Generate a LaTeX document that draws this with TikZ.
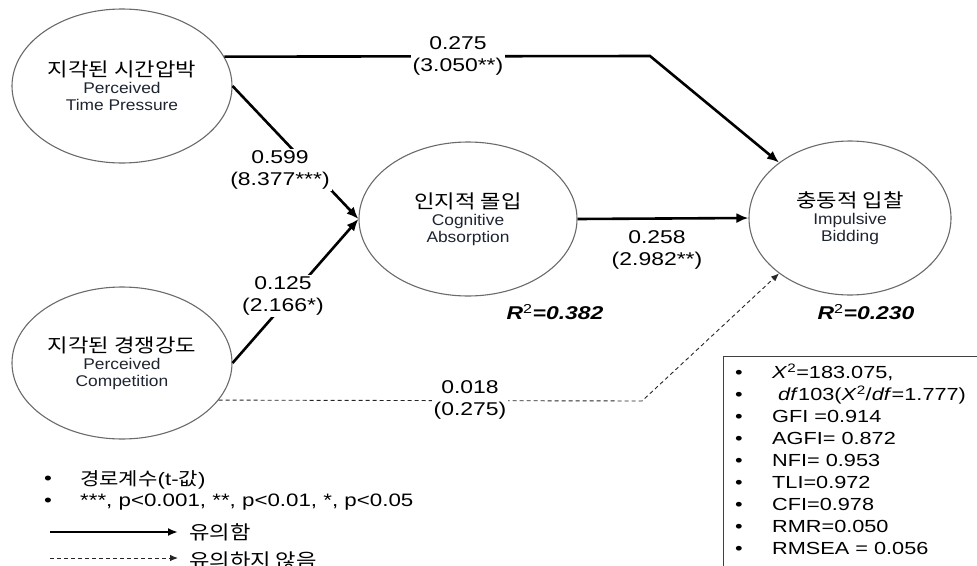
\documentclass[tikz,border=0pt]{standalone}
\usepackage{fontspec}
\setmainfont{Liberation Sans}[FakeStretch=1.24]
\newfontfamily\kfont{Noto Sans CJK KR}[FakeStretch=1.17]
\newfontfamily\efont{Liberation Sans}[FakeStretch=1.12]
\usetikzlibrary{shapes.geometric,arrows.meta}
\definecolor{ellgray}{HTML}{6A6A6A}
\definecolor{boxgray}{HTML}{404040}
\definecolor{engcol}{HTML}{1E2430}
\tikzset{
  latent/.style={ellipse, draw=ellgray, line width=1.1pt, inner sep=0pt, align=center,
    text=engcol, font=\efont\fontsize{15.5}{17}\selectfont},
  sig/.style={line width=2.6pt, -{Latex[length=12pt,width=10pt]}},
  nsig/.style={line width=0.9pt, draw=black!85, dash pattern=on 4pt off 3pt, -{Latex[length=8pt,width=6.5pt]}},
  coef/.style={fill=white, align=center, inner sep=2pt, font=\fontsize{18.5}{22}\selectfont},
  rsq/.style={inner sep=0pt, font=\fontsize{18.5}{22}\selectfont},
  legtext/.style={anchor=west, inner sep=0pt, font=\fontsize{18}{22}\selectfont},
  bulletmark/.style={inner sep=0pt, font=\fontsize{18}{22}\selectfont},
}
\newcommand{\ktitle}[1]{{\kfont\fontsize{19}{22}\selectfont\color{black}#1}}
\begin{document}
\begin{tikzpicture}[x=1pt,y=-1pt]
\useasboundingbox (0,0) rectangle (977,565);

% latent variables
\node[latent, minimum width=220pt, minimum height=154pt] (tp) at (122,86)
  {\ktitle{지각된 시간압박}\\Perceived\\Time Pressure};
\node[latent, minimum width=220pt, minimum height=152pt] (cp) at (122,363)
  {\ktitle{지각된 경쟁강도}\\Perceived\\Competition};
\node[latent, minimum width=218pt, minimum height=154pt] (ca) at (468,219)
  {\ktitle{인지적 몰입}\\Cognitive\\Absorption};
\node[latent, minimum width=202pt, minimum height=154pt] (ib) at (850,218)
  {\ktitle{충동적 입찰}\\Impulsive\\Bidding};

% bends
\coordinate (k1) at (650,56);
\coordinate (k2) at (642,401);

% paths
\draw[sig] (tp.16.5) -- (k1) -- (ib.142);
\draw[sig] (tp.east) -- (ca.west);
\draw[sig] (cp.east) -- (ca.west);
\draw[sig] (ca.east) -- (ib.west);
\draw[nsig] (cp.-21.8) -- (k2) -- (ib.218);

% coefficients
\node[coef] (l275) at (458,56) {0.275\\(3.050**)};
\node[coef] (l599) at (280,170) {0.599\\(8.377***)};
\node[coef] (l125) at (283,296) {0.125\\(2.166*)};
\node[coef] (l258) at (657,250) {0.258\\(2.982**)};
\node[coef] (l018) at (470,400) {0.018\\(0.275)};

% R squared
\node[rsq] (r1) at (555,312) {\textbf{\textit{R}}\textsuperscript{2}\textbf{\textit{=0.382}}};
\node[rsq] (r2) at (866,312) {\textbf{\textit{R}}\textsuperscript{2}\textbf{\textit{=0.230}}};

% legend
\node[bulletmark] (lb1) at (48,480) {•};
\node[legtext] (lt1) at (80,480) {{\kfont\fontsize{18}{22}\selectfont 경로계수}(t-{\kfont\fontsize{18}{22}\selectfont 값})};
\node[bulletmark] (lb2) at (48,502) {•};
\node[legtext] (lt2) at (80,502) {***, p<0.001, **, p<0.01, *, p<0.05};
\coordinate (s1) at (50,532);
\coordinate (s2) at (178,532);
\draw[line width=2.4pt, -{Latex[length=10pt,width=8pt]}] (s1) -- (s2);
\node[legtext] (lt3) at (189,532) {\kfont\fontsize{19}{22}\selectfont 유의함};
\coordinate (d1) at (50,558);
\coordinate (d2) at (178,558);
\draw[nsig] (d1) -- (d2);
\node[legtext] (lt4) at (189,560) {\kfont\fontsize{19}{22}\selectfont 유의하지 않음};

% fit box
\node[draw=boxgray, line width=1.3pt, minimum width=300pt, minimum height=260pt,
  anchor=north west, inner sep=0pt] (fitbox) at (723,356) {};
\node[anchor=north west, inner sep=0pt, font=\fontsize{17.5}{22}\selectfont] (fitlist) at (733,363)
{\begin{tabular}{@{}l@{}l@{}}
\makebox[39pt][l]{\hspace{2pt}•} & \textit{X}\textsuperscript{2}=183.075,\\
\makebox[39pt][l]{\hspace{2pt}•} & \ \textit{df}103(\textit{X}\textsuperscript{2}/\textit{df}=1.777)\\
\makebox[39pt][l]{\hspace{2pt}•} & GFI =0.914\\
\makebox[39pt][l]{\hspace{2pt}•} & AGFI= 0.872\\
\makebox[39pt][l]{\hspace{2pt}•} & NFI= 0.953\\
\makebox[39pt][l]{\hspace{2pt}•} & TLI=0.972\\
\makebox[39pt][l]{\hspace{2pt}•} & CFI=0.978\\
\makebox[39pt][l]{\hspace{2pt}•} & RMR=0.050\\
\makebox[39pt][l]{\hspace{2pt}•} & RMSEA = 0.056
\end{tabular}};
\end{tikzpicture}
\end{document}
